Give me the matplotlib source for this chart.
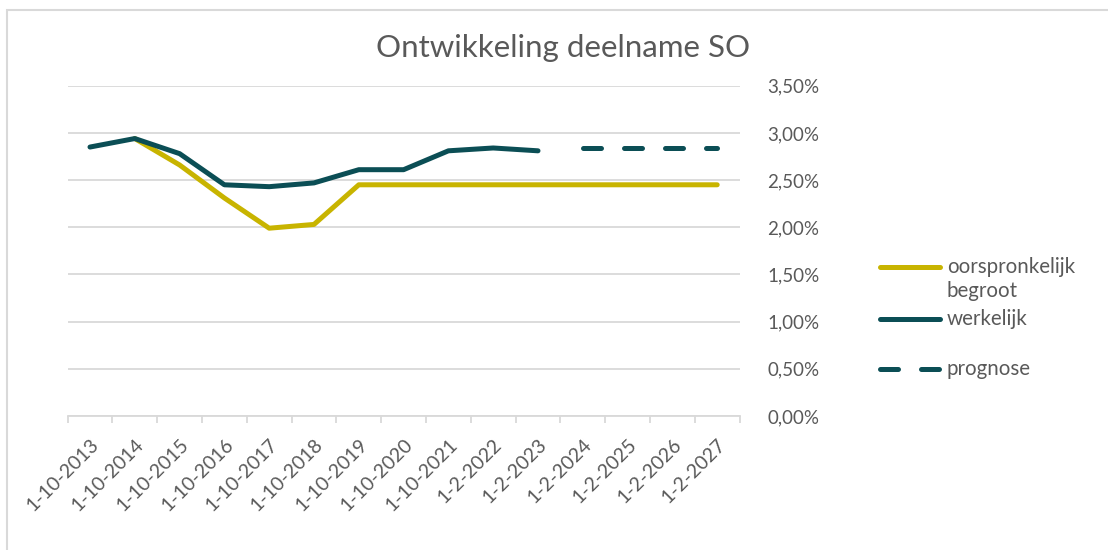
import numpy as np
import matplotlib.pyplot as plt
from matplotlib.lines import Line2D
from matplotlib.patches import Rectangle

plt.rcParams['font.family'] = ['Lato', 'DejaVu Sans']

# ---- data (percent) ----
categories = ['1-10-2013', '1-10-2014', '1-10-2015', '1-10-2016', '1-10-2017',
              '1-10-2018', '1-10-2019', '1-10-2020', '1-10-2021', '1-2-2022',
              '1-2-2023', '1-2-2024', '1-2-2025', '1-2-2026', '1-2-2027']
begroot = [np.nan, 2.94, 2.66, 2.31, 1.99, 2.03, 2.45, 2.45, 2.45, 2.45,
           2.45, 2.45, 2.45, 2.45, 2.45]
werkelijk = [2.85, 2.94, 2.78, 2.45, 2.43, 2.47, 2.61, 2.61, 2.81, 2.84,
             2.81, np.nan, np.nan, np.nan, np.nan]
prognose = [np.nan, np.nan, np.nan, np.nan, np.nan, np.nan, np.nan, np.nan,
            np.nan, np.nan, np.nan, 2.84, 2.84, 2.84, 2.84]

GOLD = '#C8B400'
TEAL = '#0B4E55'
GREY = '#595959'
GRID = '#D9D9D9'

fig = plt.figure(figsize=(11.08, 5.5), dpi=100)
ax = fig.add_axes([67.6 / 1108, 1 - 416 / 550, (739.6 - 67.6) / 1108, (416 - 85.7) / 550])

x = np.arange(len(categories))
ax.plot(x, begroot, color=GOLD, lw=3.6, solid_capstyle='round', solid_joinstyle='round', zorder=3)
ax.plot(x, werkelijk, color=TEAL, lw=3.6, solid_capstyle='round', solid_joinstyle='round', zorder=4)
ax.plot(x, prognose, color=TEAL, lw=3.6, dashes=(3.6, 4.6), dash_capstyle='round', zorder=4)

ax.set_xlim(-0.5, len(categories) - 0.5)
ax.set_ylim(0, 3.5)
ax.set_yticks(np.arange(0, 3.51, 0.5))
ax.set_yticklabels(['{:.2f}%'.format(v).replace('.', ',') for v in np.arange(0, 3.51, 0.5)])
ax.yaxis.tick_right()
ax.tick_params(axis='y', length=0, pad=20, labelsize=13.5, labelcolor=GREY)
ax.grid(axis='y', color=GRID, lw=1.3)
ax.set_axisbelow(True)

ax.set_xticks(x)
ax.set_xticklabels(categories, rotation=45, ha='right', rotation_mode='anchor')
ax.set_xticks(np.arange(-0.5, len(categories), 1), minor=True)
ax.tick_params(axis='x', which='major', length=0, pad=14, labelsize=14, labelcolor=GREY)
ax.tick_params(axis='x', which='minor', length=5, width=1.3, color=GRID)

for s in ['top', 'left', 'right']:
    ax.spines[s].set_visible(False)
ax.spines['bottom'].set_color(GRID)
ax.spines['bottom'].set_linewidth(1.3)

fig.text(563 / 1108, 1 - 48 / 550, 'Ontwikkeling deelname SO', ha='center', va='center',
         fontsize=22.5, color=GREY)

# legend drawn by hand to mimic Excel layout
def fx(px):
    return px / 1108

def fy(py):
    return 1 - py / 550

fig.add_artist(Line2D([fx(880), fx(940)], [fy(267), fy(267)], color=GOLD, lw=3.6,
                      solid_capstyle='round'))
fig.text(fx(947), fy(267), 'oorspronkelijk', va='center', fontsize=14.8, color=GREY)
fig.text(fx(947), fy(291), 'begroot', va='center', fontsize=14.8, color=GREY)
fig.add_artist(Line2D([fx(880), fx(940)], [fy(319), fy(319)], color=TEAL, lw=3.6,
                      solid_capstyle='round'))
fig.text(fx(947), fy(319), 'werkelijk', va='center', fontsize=14.8, color=GREY)
fig.add_artist(Line2D([fx(880), fx(940)], [fy(369), fy(369)], color=TEAL, lw=3.6,
                      dashes=(3.6, 4.6), dash_capstyle='round'))
fig.text(fx(947), fy(369), 'prognose', va='center', fontsize=14.8, color=GREY)

# chart border
fig.add_artist(Rectangle((fx(7), -0.1), 1.2, fy(10) + 0.1, transform=fig.transFigure,
                         fill=False, edgecolor=GRID, lw=1.5))

fig.savefig('out.png', dpi=100)
